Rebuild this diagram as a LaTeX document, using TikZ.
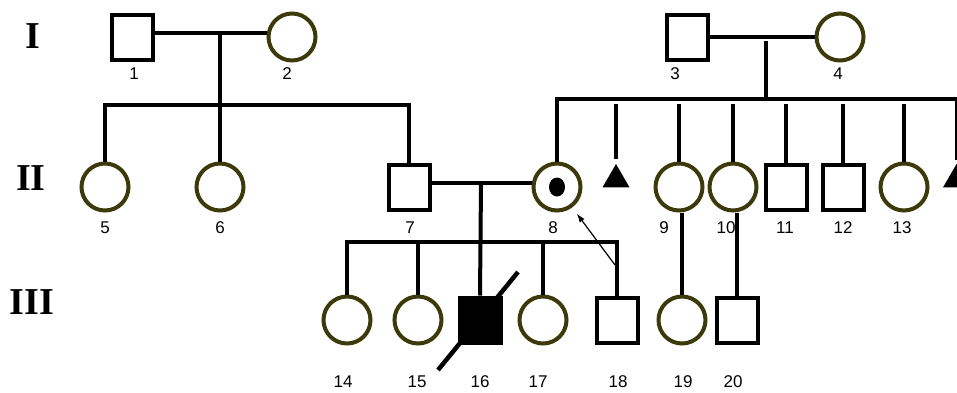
\documentclass[tikz,border=0pt]{standalone}
\usepackage{fontspec}
\setmainfont{Liberation Serif}
\setsansfont{Liberation Sans}
\usetikzlibrary{shapes.geometric}
\usetikzlibrary{arrows.meta}
\definecolor{pedline}{RGB}{60,57,10}
\tikzset{male/.style={draw, line width=4pt, minimum width=41pt, minimum height=45pt, inner sep=0pt},
  female/.style={circle, draw=pedline, line width=4pt, minimum size=47pt, inner sep=0pt},
  lost/.style={regular polygon, regular polygon sides=3, fill=black, minimum size=31.2pt, inner sep=0pt, outer sep=0pt},
  link/.style={line width=4pt},
  pointer/.style={line width=1.2pt, -{Latex[length=9pt,width=6pt]}},
  num/.style={font=\sffamily\fontsize{17}{17}\selectfont, inner sep=0pt},
  gen/.style={font=\rmfamily\bfseries\fontsize{38}{38}\selectfont, inner sep=0pt}}

\begin{document}
\begin{tikzpicture}[x=1pt, y=-1pt]
      \useasboundingbox (0,0) rectangle (957,392);
      \clip (0,0) rectangle (957,392);

      \node [gen] (gI) at (33,36) {I};
      \node [gen] (gII) at (31,178) {II};
      \node [gen] (gIII) at (32,302) {III};

      % generation I
      \node [male] (I1) at (132,37) {};
      \node [female] (I2) at (292,37) {};
      \node [male] (I3) at (687,37) {};
      \node [female] (I4) at (840,37) {};

      % generation II
      \node [female] (II5) at (105,187) {};
      \node [female] (II6) at (220,187) {};
      \node [male] (II7) at (409,187) {};
      \node [female] (II8) at (557,187) {};
      \node [lost] (tA) at (616,179.6) {};
      \node [female] (II9) at (679,187) {};
      \node [female] (II10) at (733,187) {};
      \node [male] (II11) at (786,187) {};
      \node [male] (II12) at (843,187) {};
      \node [female] (II13) at (904,187) {};
      \node [lost] (tB) at (956.5,179.6) {};
      \fill (II8.center) ellipse [x radius=8pt, y radius=9.5pt];

      % generation III
      \node [female] (III14) at (347,320) {};
      \node [female] (III15) at (418,320) {};
      \node [male, fill=black] (III16) at (480,320) {};
      \node [female] (III17) at (543,320) {};
      \node [male] (III18) at (617,320) {};
      \node [female] (III19) at (682,320) {};
      \node [male] (III20) at (737,320) {};

      \coordinate (m1) at (220,33);
      \coordinate (sib1) at (220,105);
      \coordinate (m2) at (766,41);
      \coordinate (sib2) at (766,99);
      \coordinate (m3) at (481,183);
      \coordinate (sib3) at (481,242);

      \draw [link] (I1.east |- m1) -- (I2.west |- m1);
      \draw [link] (m1) -- (sib1);
      \draw [link] (II5.north) -- (II5.north |- sib1) -- (II7.north |- sib1) -- (II7.north);
      \draw [link] (sib1) -- (II6.north);

      \draw [link] (I3.east) -- (I4.west);
      \draw [link] (m2) -- (sib2);
      \draw [link, shorten >=4pt] (II8.north) -- (II8.north |- sib2) -- (tB.north |- sib2) -- (tB.north);
      \foreach \c in {II9,II10,II11,II12,II13}
        \draw [link, shorten <=5pt] (\c.north |- sib2) -- (\c.north);
      \draw [link, shorten <=5pt, shorten >=5pt] (tA.north |- sib2) -- (tA.north);

      \draw [link] (II7.east |- m3) -- (II8.west |- m3);
      \draw [link] (m3) -- (III16.north);
      \draw [link] (III14.north) -- (III14.north |- sib3) -- (III18.north |- sib3) -- (III18.north);
      \foreach \c in {III15,III17}
        \draw [link] (\c.north |- sib3) -- (\c.north);
      \draw [link] (III19.north |- II9.south) -- (III19.north);
      \draw [link] (III20.north |- II10.south) -- (III20.north);

      \draw [line width=4.5pt] ([shift={(-42,50)}]III16.center) -- ([shift={(38,-48)}]III16.center);

      \coordinate (atail) at (615,265);
      \draw [pointer, shorten >=33pt] (atail) -- (II8.center);

      \foreach \n/\x/\y in {1/134/74, 2/287/74, 3/675/74, 4/838/74,
          5/105/228, 6/220/228, 7/410/228, 8/553/228, 9/664/228, 10/726/228,
          11/785/228, 12/843/228, 13/902/228,
          14/343/382, 15/417/382, 16/480/382, 17/538/382, 18/618/382, 19/683/382, 20/733/382}
        \node [num] (l\n) at (\x,\y) {\n};
\end{tikzpicture}
\end{document}
